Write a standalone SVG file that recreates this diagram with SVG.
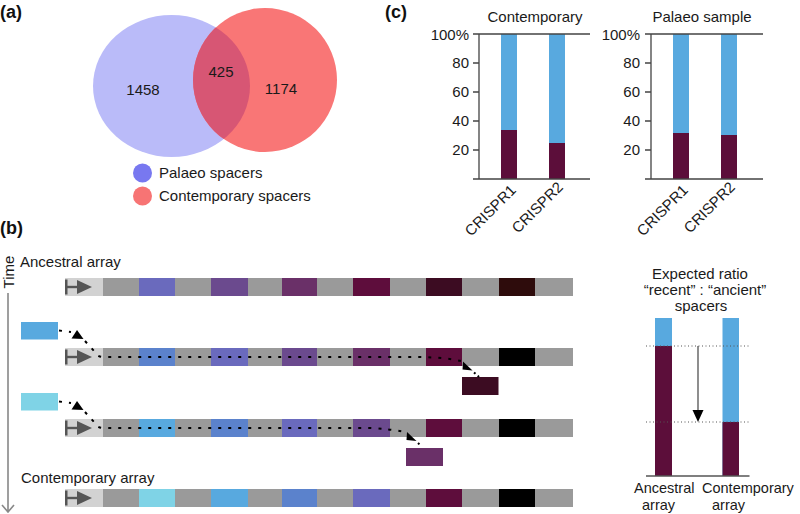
<svg xmlns="http://www.w3.org/2000/svg" width="800" height="514" viewBox="0 0 800 514">
<defs>
<style>
text{font-family:"Liberation Sans",Arial,Helvetica,sans-serif;font-size:15px;fill:#1a1a1a}
.lbl{font-weight:bold;font-size:18px;fill:#111}
.sm{font-size:14.5px}
.g{fill:#9a9a9a}
.ld{fill:#d2d2d2}
.gl{fill:#555}
.ax{stroke:#444;stroke-width:1.3;fill:none}
.bl{fill:#58a9df}
.dk{fill:#5c0e3a}
.dot{fill:none;stroke:#000;stroke-width:2;stroke-dasharray:3 7}
.ah{fill:#000}
.fine{stroke:#555;stroke-width:1;stroke-dasharray:1 2.5;fill:none}
.mid{text-anchor:middle}
.end{text-anchor:end}
</style>
<clipPath id="clipL"><ellipse cx="171.5" cy="86" rx="78.5" ry="71"/></clipPath>
<g id="leaderSym">
<rect class="ld" x="0" y="0" width="38" height="18"/>
<rect class="gl" x="0" y="1.5" width="2.5" height="15"/>
<rect class="gl" x="2" y="7.8" width="12" height="2.4"/>
<polygon class="gl" points="12,2 27,9 12,16"/>
</g>
</defs>
<rect width="800" height="514" fill="#fff"/>

<!-- Panel (a) -->
<text class="lbl" x="0" y="18">(a)</text>
<g id="venn-palaeo">
<ellipse cx="171.5" cy="86" rx="78.5" ry="71" fill="#babbf9"/>
<text class="mid" x="143" y="95">1458</text>
</g>
<g id="venn-contemporary">
<circle cx="265" cy="80" r="72" fill="#f97676"/>
<text class="mid" x="281" y="94">1174</text>
</g>
<g id="venn-overlap">
<circle cx="265" cy="80" r="72" fill="#d75674" clip-path="url(#clipL)"/>
<text class="mid" x="221" y="77">425</text>
</g>
<g id="legend">
<circle cx="142.5" cy="173" r="9.5" fill="#7878f0"/>
<text x="159" y="178">Palaeo spacers</text>
<circle cx="142.5" cy="196" r="9.5" fill="#f77474"/>
<text x="159" y="201">Contemporary spacers</text>
</g>

<!-- Panel (c) -->
<text class="lbl" x="385" y="18">(c)</text>
<g id="chart-contemporary">
<text class="mid" x="535" y="22">Contemporary</text>
<rect class="bl" x="501" y="34" width="16" height="145"/>
<rect class="dk" x="501" y="130" width="16" height="49"/>
<rect class="bl" x="549" y="34" width="16" height="145"/>
<rect class="dk" x="549" y="143" width="16" height="36"/>
<path class="ax" d="M473,34H590M473,179H590M479,34V179M473,63H479M473,92H479M473,121H479M473,150H479"/>
<text class="end" x="469" y="40">100%</text>
<text class="end" x="469" y="68">80</text>
<text class="end" x="469" y="97">60</text>
<text class="end" x="469" y="126">40</text>
<text class="end" x="469" y="155">20</text>
<text class="end" transform="translate(517,191) rotate(-45)">CRISPR1</text>
<text class="end" transform="translate(564,188) rotate(-45)">CRISPR2</text>
</g>
<g id="chart-palaeo">
<text class="mid" x="702" y="22">Palaeo sample</text>
<rect class="bl" x="673" y="34" width="16" height="145"/>
<rect class="dk" x="673" y="133" width="16" height="46"/>
<rect class="bl" x="721" y="34" width="16" height="145"/>
<rect class="dk" x="721" y="135" width="16" height="44"/>
<path class="ax" d="M645,34H763M645,179H763M651,34V179M645,63H651M645,92H651M645,121H651M645,150H651"/>
<text class="end" x="640" y="40">100%</text>
<text class="end" x="640" y="68">80</text>
<text class="end" x="640" y="97">60</text>
<text class="end" x="640" y="126">40</text>
<text class="end" x="640" y="155">20</text>
<text class="end" transform="translate(689,191) rotate(-45)">CRISPR1</text>
<text class="end" transform="translate(736,188) rotate(-45)">CRISPR2</text>
</g>

<!-- Panel (b) -->
<text class="lbl" x="0" y="234">(b)</text>
<g id="time-axis">
<text class="mid" transform="translate(13.5,272) rotate(-90)">Time</text>
<path d="M8,293V512M2,505L8,512L14,505" fill="none" stroke="#888" stroke-width="1.6"/>
</g>

<text x="20" y="267">Ancestral array</text>
<g id="row-ancestral" transform="translate(0,278)">
<use href="#leaderSym" x="65"/>
<rect class="g" x="103" y="0" width="470" height="18"/>
<rect x="139" width="36" height="18" fill="#6a6abd"/>
<rect x="211" width="37" height="18" fill="#6b4a8e"/>
<rect x="282" width="35" height="18" fill="#6a3068"/>
<rect x="353" width="37" height="18" fill="#5e0d3c"/>
<rect x="426" width="36" height="18" fill="#3c0c22"/>
<rect x="499" width="36" height="18" fill="#2e0c0c"/>
</g>

<g id="new-spacer-1"><rect x="21" y="322" width="37" height="17.5" fill="#58a9df"/></g>
<g id="row-2" transform="translate(0,348)">
<use href="#leaderSym" x="65"/>
<rect class="g" x="103" y="0" width="470" height="18"/>
<rect x="139" width="36" height="18" fill="#5b82cc"/>
<rect x="211" width="37" height="18" fill="#6a6abd"/>
<rect x="282" width="35" height="18" fill="#6b4a8e"/>
<rect x="353" width="37" height="18" fill="#6a3068"/>
<rect x="426" width="36" height="18" fill="#5e0d3c"/>
<rect x="499" width="36" height="18" fill="#000"/>
</g>
<g id="lost-spacer-1"><rect x="462" y="377" width="36.5" height="18" fill="#3c0c22"/></g>

<g id="new-spacer-2"><rect x="21" y="393" width="37" height="17.5" fill="#7fd3e6"/></g>
<g id="row-3" transform="translate(0,419)">
<use href="#leaderSym" x="65"/>
<rect class="g" x="103" y="0" width="470" height="18"/>
<rect x="139" width="36" height="18" fill="#58a9df"/>
<rect x="211" width="37" height="18" fill="#5b82cc"/>
<rect x="282" width="35" height="18" fill="#6a6abd"/>
<rect x="353" width="37" height="18" fill="#6b4a8e"/>
<rect x="426" width="36" height="18" fill="#5e0d3c"/>
<rect x="499" width="36" height="18" fill="#000"/>
</g>
<g id="lost-spacer-2"><rect x="406" y="448" width="37" height="18" fill="#6a3068"/></g>

<text x="21" y="483">Contemporary array</text>
<g id="row-contemporary" transform="translate(0,489)">
<use href="#leaderSym" x="65"/>
<rect class="g" x="103" y="0" width="470" height="18"/>
<rect x="139" width="36" height="18" fill="#7fd3e6"/>
<rect x="211" width="37" height="18" fill="#58a9df"/>
<rect x="282" width="35" height="18" fill="#5b82cc"/>
<rect x="353" width="37" height="18" fill="#6a6abd"/>
<rect x="426" width="36" height="18" fill="#5e0d3c"/>
<rect x="499" width="36" height="18" fill="#000"/>
</g>

<g id="connectors">
<path class="dot" d="M59,330.5 L71,332"/>
<polygon class="ah" points="77,330 71.5,338.5 83.5,339"/>
<path class="dot" d="M85,341 L94,351 Q97,357 103,357 L420,357 Q445,357.5 461,361"/>
<polygon class="ah" points="463,361.5 462.5,369.5 472.5,370.5"/>
<path class="dot" d="M474,372.5 L479,377" style="stroke-dasharray:2 3"/>

<path class="dot" d="M59,401.5 L71,403"/>
<polygon class="ah" points="77,401 71.5,409.5 83.5,410"/>
<path class="dot" d="M85,412 L94,422 Q97,428 103,428 L370,428 Q390,429 405,432"/>
<polygon class="ah" points="407,432 406.5,440 416.5,441"/>
<path class="dot" d="M418,443 L421,446" style="stroke-dasharray:2 3"/>
</g>

<g id="expected-ratio">
<text class="mid" x="700" y="279">Expected ratio</text>
<text class="mid" x="705" y="295">“recent” : “ancient”</text>
<text class="mid" x="701" y="311">spacers</text>
<rect class="bl" x="655" y="318" width="17" height="158"/>
<rect class="dk" x="655" y="346" width="17" height="130"/>
<rect class="bl" x="722.5" y="318" width="16.5" height="158"/>
<rect class="dk" x="722.5" y="422" width="16.5" height="54"/>
<path class="fine" d="M646,346H750M646,422H750"/>
<path d="M698,346V411" stroke="#444" stroke-width="1.2"/>
<polygon class="ah" points="692.5,410 703.5,410 698,422"/>
<path d="M646,476H749.5" stroke="#555" stroke-width="1.5"/>
<text class="sm" x="634" y="493">Ancestral</text>
<text class="sm" x="642" y="510">array</text>
<text class="sm" x="702" y="493">Contemporary</text>
<text class="sm" x="712" y="510">array</text>
</g>
</svg>
